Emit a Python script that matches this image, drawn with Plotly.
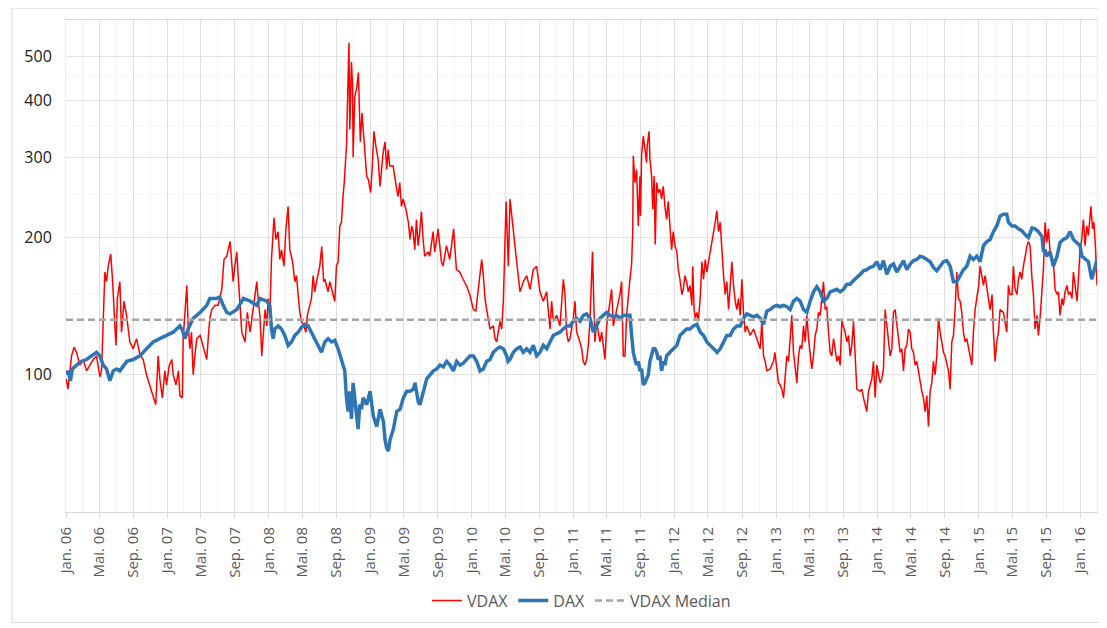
import plotly.graph_objects as go

# VDAX, indexed (Jan 2006 = 100)
vdax_dates = [
    "2006-01-02", "2006-01-08", "2006-01-21", "2006-01-30", "2006-02-08", "2006-02-20", "2006-03-04", "2006-03-16",
    "2006-03-28", "2006-04-09", "2006-04-21", "2006-05-03", "2006-05-09", "2006-05-15", "2006-05-21", "2006-05-27",
    "2006-06-02", "2006-06-11", "2006-06-18", "2006-06-26", "2006-06-30", "2006-07-05", "2006-07-14", "2006-07-20",
    "2006-07-29", "2006-08-07", "2006-08-19", "2006-08-31", "2006-09-12", "2006-09-24", "2006-10-06", "2006-10-18",
    "2006-10-30", "2006-11-11", "2006-11-20", "2006-11-29", "2006-12-05", "2006-12-14", "2006-12-23", "2006-12-29",
    "2007-01-08", "2007-01-17", "2007-01-22", "2007-02-01", "2007-02-10", "2007-02-15", "2007-02-24", "2007-02-27",
    "2007-03-05", "2007-03-12", "2007-03-17", "2007-03-23", "2007-03-29", "2007-04-04", "2007-04-10", "2007-04-17",
    "2007-04-29", "2007-05-10", "2007-05-23", "2007-05-28", "2007-06-03", "2007-06-10", "2007-06-22", "2007-07-03",
    "2007-07-16", "2007-07-24", "2007-08-03", "2007-08-15", "2007-08-21", "2007-08-26", "2007-09-01", "2007-09-08",
    "2007-09-13", "2007-09-20", "2007-09-26", "2007-10-08", "2007-10-16", "2007-10-26", "2007-11-06", "2007-11-19",
    "2007-11-24", "2007-12-01", "2007-12-07", "2007-12-12", "2007-12-19", "2007-12-25", "2007-12-30",
    "2008-01-05", "2008-01-11", "2008-01-20", "2008-01-27", "2008-02-04", "2008-02-10", "2008-02-16", "2008-02-25",
    "2008-03-03", "2008-03-11", "2008-03-17", "2008-03-27", "2008-04-04", "2008-04-10", "2008-04-16", "2008-04-22",
    "2008-04-28", "2008-05-07", "2008-05-14", "2008-05-19", "2008-05-28", "2008-06-03", "2008-06-09", "2008-06-15",
    "2008-06-21", "2008-06-27", "2008-07-03", "2008-07-10", "2008-07-17", "2008-07-21", "2008-07-27", "2008-08-02",
    "2008-08-08", "2008-08-14", "2008-08-20", "2008-08-26", "2008-09-01", "2008-09-07", "2008-09-13", "2008-09-19",
    "2008-09-24", "2008-09-29", "2008-10-07", "2008-10-11", "2008-10-16", "2008-10-19", "2008-10-25", "2008-10-29",
    "2008-10-31", "2008-11-06", "2008-11-12", "2008-11-19", "2008-11-26", "2008-12-02", "2008-12-07", "2008-12-13",
    "2008-12-19", "2008-12-25",
    "2009-01-02", "2009-01-07", "2009-01-14", "2009-01-21", "2009-01-29", "2009-02-05", "2009-02-11", "2009-02-16",
    "2009-02-23", "2009-03-01", "2009-03-06", "2009-03-12", "2009-03-24", "2009-03-30", "2009-04-06", "2009-04-11",
    "2009-04-17", "2009-04-23", "2009-04-29", "2009-05-09", "2009-05-18", "2009-05-24", "2009-05-30", "2009-06-04",
    "2009-06-10", "2009-06-16", "2009-06-22", "2009-06-28", "2009-07-04", "2009-07-10", "2009-07-16", "2009-07-28",
    "2009-08-03", "2009-08-15", "2009-08-21", "2009-09-02", "2009-09-14", "2009-09-20", "2009-10-02", "2009-10-14",
    "2009-10-28", "2009-11-07", "2009-11-19", "2009-12-01", "2009-12-13", "2009-12-25",
    "2010-01-07", "2010-01-16", "2010-01-25", "2010-02-06", "2010-02-12", "2010-02-18", "2010-02-24", "2010-03-02",
    "2010-03-08", "2010-03-20", "2010-03-26", "2010-04-01", "2010-04-07", "2010-04-13", "2010-04-19", "2010-04-25",
    "2010-05-05", "2010-05-13", "2010-05-19", "2010-05-31", "2010-06-06", "2010-06-12", "2010-06-24", "2010-07-06",
    "2010-07-18", "2010-07-30", "2010-08-11", "2010-08-23", "2010-09-04", "2010-09-16", "2010-09-28", "2010-10-04",
    "2010-10-10", "2010-10-16", "2010-10-22", "2010-11-03", "2010-11-15", "2010-11-27", "2010-12-03", "2010-12-09",
    "2010-12-15", "2010-12-21",
    "2011-01-02", "2011-01-08", "2011-01-14", "2011-01-26", "2011-02-01", "2011-02-07", "2011-02-13", "2011-02-19",
    "2011-02-25", "2011-03-03", "2011-03-09", "2011-03-12", "2011-03-17", "2011-03-21", "2011-03-27", "2011-04-08",
    "2011-04-14", "2011-04-26", "2011-05-02", "2011-05-14", "2011-05-20", "2011-05-26", "2011-06-07", "2011-06-19",
    "2011-06-25", "2011-07-01", "2011-07-07", "2011-07-13", "2011-07-25", "2011-07-31", "2011-08-04", "2011-08-06",
    "2011-08-12", "2011-08-18", "2011-08-24", "2011-08-30", "2011-09-01", "2011-09-05", "2011-09-11", "2011-09-17",
    "2011-09-23", "2011-09-25", "2011-10-02", "2011-10-05", "2011-10-11", "2011-10-15", "2011-10-20", "2011-10-24",
    "2011-10-29", "2011-11-04", "2011-11-10", "2011-11-16", "2011-11-22", "2011-11-28", "2011-12-04", "2011-12-10",
    "2011-12-16", "2011-12-22", "2011-12-28",
    "2012-01-03", "2012-01-10", "2012-01-15", "2012-01-21", "2012-01-28", "2012-02-02", "2012-02-08", "2012-02-14",
    "2012-02-20", "2012-02-26", "2012-03-04", "2012-03-07", "2012-03-12", "2012-03-16", "2012-03-22", "2012-03-27",
    "2012-04-03", "2012-04-09", "2012-04-15", "2012-04-21", "2012-04-27", "2012-05-03", "2012-05-09", "2012-05-15",
    "2012-05-21", "2012-05-27", "2012-06-02", "2012-06-08", "2012-06-14", "2012-06-20", "2012-06-26", "2012-07-02",
    "2012-07-08", "2012-07-14", "2012-07-20", "2012-07-26", "2012-08-01", "2012-08-07", "2012-08-13", "2012-08-19",
    "2012-08-25", "2012-08-31", "2012-09-06", "2012-09-12", "2012-09-18", "2012-09-30", "2012-10-12", "2012-10-24",
    "2012-11-05", "2012-11-11", "2012-11-17", "2012-11-23", "2012-11-29", "2012-12-11", "2012-12-23", "2012-12-28",
    "2013-01-04", "2013-01-10", "2013-01-16", "2013-01-22", "2013-01-28", "2013-02-03", "2013-02-09", "2013-02-15",
    "2013-02-21", "2013-02-27", "2013-03-05", "2013-03-11", "2013-03-17", "2013-03-23", "2013-03-29", "2013-04-04",
    "2013-04-10", "2013-04-16", "2013-04-22", "2013-04-28", "2013-05-04", "2013-05-10", "2013-05-16", "2013-05-22",
    "2013-05-28", "2013-06-03", "2013-06-09", "2013-06-15", "2013-06-21", "2013-06-27", "2013-07-03", "2013-07-09",
    "2013-07-15", "2013-07-21", "2013-07-27", "2013-08-02", "2013-08-08", "2013-08-14", "2013-08-20", "2013-08-26",
    "2013-09-01", "2013-09-07", "2013-09-13", "2013-09-19", "2013-09-25", "2013-10-01", "2013-10-07", "2013-10-13",
    "2013-10-19", "2013-10-31", "2013-11-06", "2013-11-12", "2013-11-18", "2013-11-24", "2013-11-30", "2013-12-06",
    "2013-12-12", "2013-12-18", "2013-12-24", "2013-12-30",
    "2014-01-05", "2014-01-11", "2014-01-17", "2014-01-23", "2014-01-29", "2014-02-04", "2014-02-10", "2014-02-16",
    "2014-02-22", "2014-02-28", "2014-03-06", "2014-03-12", "2014-03-18", "2014-03-24", "2014-03-30", "2014-04-05",
    "2014-04-11", "2014-04-17", "2014-04-23", "2014-04-29", "2014-05-05", "2014-05-11", "2014-05-17", "2014-05-23",
    "2014-05-29", "2014-06-04", "2014-06-10", "2014-06-16", "2014-06-22", "2014-06-28", "2014-07-04", "2014-07-10",
    "2014-07-16", "2014-07-22", "2014-07-28", "2014-08-03", "2014-08-09", "2014-08-15", "2014-08-21", "2014-08-27",
    "2014-09-02", "2014-09-08", "2014-09-14", "2014-09-20", "2014-09-26", "2014-10-02", "2014-10-08", "2014-10-14",
    "2014-10-20", "2014-10-26", "2014-11-01", "2014-11-07", "2014-11-13", "2014-11-19", "2014-11-25", "2014-12-01",
    "2014-12-07", "2014-12-13", "2014-12-19", "2014-12-25",
    "2015-01-01", "2015-01-06", "2015-01-13", "2015-01-18", "2015-01-24", "2015-01-31", "2015-02-05", "2015-02-11",
    "2015-02-18", "2015-02-23", "2015-03-01", "2015-03-07", "2015-03-13", "2015-03-19", "2015-03-31", "2015-04-12",
    "2015-04-18", "2015-04-24", "2015-05-01", "2015-05-06", "2015-05-12", "2015-05-19", "2015-05-24", "2015-05-30",
    "2015-06-05", "2015-06-11", "2015-06-17", "2015-06-24", "2015-06-29", "2015-07-05", "2015-07-12", "2015-07-17",
    "2015-07-23", "2015-07-30", "2015-08-04", "2015-08-10", "2015-08-17", "2015-08-22", "2015-08-28", "2015-09-03",
    "2015-09-09", "2015-09-15", "2015-09-27", "2015-10-03", "2015-10-10", "2015-10-15", "2015-10-21", "2015-10-28",
    "2015-11-02", "2015-11-08", "2015-11-15", "2015-11-20", "2015-11-26", "2015-12-03", "2015-12-08", "2015-12-14",
    "2015-12-21", "2015-12-26",
    "2016-01-01", "2016-01-07", "2016-01-13", "2016-01-19", "2016-01-25", "2016-01-31", "2016-02-06", "2016-02-09",
    "2016-02-15", "2016-02-20", "2016-02-26", "2016-03-02",
]
vdax_values = [
    98, 93, 110, 115, 112, 105, 108, 102,
    105, 108, 110, 99, 102, 139, 168, 160,
    173, 184, 160, 128, 116, 147, 160, 124,
    145, 135, 118, 114, 120, 111, 108, 100,
    95, 90, 86, 110, 98, 89, 102, 95,
    105, 108, 100, 95, 102, 90, 89, 120,
    139, 157, 128, 114, 124, 100, 110, 120,
    122, 116, 108, 120, 133, 139, 142, 142,
    154, 179, 182, 196, 173, 160, 173, 186,
    165, 139, 124, 118, 137, 124, 139, 160,
    147, 133, 110, 120, 139, 128, 147,
    135, 179, 221, 198, 206, 179, 188, 173,
    209, 234, 188, 177, 160, 165, 150, 137,
    131, 128, 124, 135, 142, 147, 165, 152,
    160, 168, 173, 191, 160, 162, 157, 152,
    160, 154, 150, 145, 173, 177, 212, 216,
    243, 264, 317, 428, 535, 345, 485, 428,
    300, 408, 422, 460, 324, 375, 340, 317,
    272, 268,
    251, 278, 342, 317, 297, 259, 282, 307,
    324, 282, 312, 287, 287, 268, 255, 246,
    264, 234, 243, 231, 216, 198, 212, 206,
    188, 219, 192, 206, 228, 198, 182, 186,
    182, 206, 186, 209, 177, 173, 192, 179,
    209, 170, 168, 162, 157, 150,
    139, 138, 154, 179, 165, 147, 139, 131,
    126, 128, 120, 118, 124, 131, 126, 145,
    240, 173, 243, 206, 186, 177, 152, 160,
    165, 154, 170, 173, 152, 145, 152, 137,
    126, 145, 131, 135, 128, 162, 150, 124,
    118, 120,
    133, 145, 124, 118, 114, 107, 105, 108,
    116, 131, 157, 186, 142, 118, 131, 118,
    124, 108, 128, 147, 154, 128, 139, 150,
    160, 110, 110, 135, 162, 175, 206, 302,
    264, 282, 212, 272, 223, 304, 334, 307,
    292, 317, 342, 297, 273, 231, 273, 193,
    264, 251, 255, 243, 259, 234, 219, 240,
    209, 188, 206,
    192, 186, 170, 162, 150, 154, 165, 160,
    152, 157, 142, 173, 139, 133, 137, 131,
    147, 177, 162, 179, 168, 177, 186, 192,
    206, 216, 229, 206, 216, 182, 165, 150,
    160, 139, 157, 177, 157, 145, 139, 147,
    135, 162, 137, 124, 128, 122, 126, 120,
    114, 131, 110, 107, 102, 103, 107, 112,
    102, 96, 95, 93, 89, 102, 110, 107,
    118, 135, 112, 103, 96, 110, 116, 114,
    128, 118, 135, 120, 110, 103, 110, 122,
    126, 137, 135, 147, 160, 139, 141, 124,
    112, 110, 120, 114, 107, 110, 105, 131,
    128, 124, 118, 122, 110, 116, 131, 112,
    93, 92, 93, 89, 86, 83, 92, 95,
    98, 107, 89, 105,
    100, 96, 98, 103, 139, 128, 120, 110,
    114, 137, 139, 128, 120, 112, 114, 102,
    114, 116, 126, 124, 114, 112, 105, 107,
    102, 96, 92, 89, 83, 90, 77, 92,
    96, 107, 100, 110, 133, 124, 118, 112,
    110, 105, 102, 93, 118, 122, 139, 168,
    147, 145, 137, 124, 118, 120, 114, 110,
    105, 124, 139, 147,
    157, 173, 165, 157, 165, 152, 147, 139,
    150, 124, 107, 118, 124, 139, 137, 124,
    157, 150, 150, 173, 154, 150, 162, 168,
    162, 173, 182, 192, 196, 192, 162, 150,
    126, 135, 122, 133, 154, 170, 216, 195,
    209, 186, 177, 154, 150, 152, 135, 147,
    142, 152, 157, 150, 152, 147, 168, 157,
    145, 162,
    188, 198, 219, 192, 212, 202, 231, 234,
    209, 216, 188, 157,
]

# DAX, indexed (Jan 2006 = 100)
dax_dates = [
    "2006-01-02", "2006-01-09", "2006-01-17", "2006-01-24", "2006-02-08", "2006-02-26", "2006-03-16", "2006-04-03",
    "2006-04-21", "2006-05-03", "2006-05-15", "2006-05-27", "2006-06-08", "2006-06-20", "2006-07-02", "2006-07-14",
    "2006-07-27", "2006-08-08", "2006-08-31", "2006-09-24", "2006-10-18", "2006-11-11", "2006-12-05", "2006-12-29",
    "2007-01-22", "2007-02-15", "2007-02-25", "2007-03-05", "2007-03-17", "2007-04-04", "2007-04-29", "2007-05-23",
    "2007-06-03", "2007-06-27", "2007-07-09", "2007-07-21", "2007-08-03", "2007-08-15", "2007-09-08", "2007-10-02",
    "2007-10-26", "2007-11-19", "2007-12-01", "2007-12-25",
    "2008-01-05", "2008-01-11", "2008-01-17", "2008-01-23", "2008-02-04", "2008-02-16", "2008-02-28", "2008-03-11",
    "2008-03-23", "2008-04-04", "2008-04-16", "2008-04-28", "2008-05-10", "2008-05-22", "2008-06-03", "2008-06-15",
    "2008-06-27", "2008-07-09", "2008-07-21", "2008-08-02", "2008-08-14", "2008-08-26", "2008-09-07", "2008-09-20",
    "2008-09-25", "2008-10-01", "2008-10-07", "2008-10-13", "2008-10-19", "2008-10-25", "2008-10-31", "2008-11-06",
    "2008-11-12", "2008-11-18", "2008-11-24", "2008-11-30", "2008-12-06", "2008-12-19", "2008-12-31",
    "2009-01-06", "2009-01-12", "2009-01-24", "2009-02-05", "2009-02-17", "2009-02-23", "2009-03-01", "2009-03-07",
    "2009-03-13", "2009-03-25", "2009-04-06", "2009-04-18", "2009-04-30", "2009-05-12", "2009-05-24", "2009-06-05",
    "2009-06-11", "2009-06-23", "2009-06-29", "2009-07-11", "2009-07-23", "2009-08-04", "2009-08-16", "2009-08-28",
    "2009-09-09", "2009-09-21", "2009-10-03", "2009-10-15", "2009-10-27", "2009-11-08", "2009-11-20", "2009-12-02",
    "2009-12-14", "2009-12-26",
    "2010-01-07", "2010-01-19", "2010-01-31", "2010-02-12", "2010-02-24", "2010-03-08", "2010-03-20", "2010-04-02",
    "2010-04-13", "2010-04-25", "2010-05-07", "2010-05-12", "2010-05-19", "2010-05-31", "2010-06-12", "2010-06-24",
    "2010-07-06", "2010-07-18", "2010-07-30", "2010-08-11", "2010-08-23", "2010-09-04", "2010-09-16", "2010-09-28",
    "2010-10-10", "2010-10-22", "2010-11-03", "2010-11-15", "2010-11-27", "2010-12-09", "2010-12-21",
    "2011-01-02", "2011-01-14", "2011-01-26", "2011-02-07", "2011-02-19", "2011-03-03", "2011-03-15", "2011-03-27",
    "2011-04-08", "2011-04-20", "2011-05-02", "2011-05-14", "2011-05-26", "2011-06-07", "2011-06-19", "2011-07-01",
    "2011-07-14", "2011-07-25", "2011-07-31", "2011-08-06", "2011-08-12", "2011-08-18", "2011-08-24", "2011-08-30",
    "2011-09-05", "2011-09-11", "2011-09-17", "2011-09-23", "2011-09-29", "2011-10-05", "2011-10-11", "2011-10-17",
    "2011-10-23", "2011-10-29", "2011-11-04", "2011-11-10", "2011-11-16", "2011-11-22", "2011-11-28", "2011-12-04",
    "2011-12-16", "2011-12-28",
    "2012-01-10", "2012-01-21", "2012-02-02", "2012-02-14", "2012-02-26", "2012-03-09", "2012-03-22", "2012-04-03",
    "2012-04-15", "2012-04-27", "2012-05-09", "2012-05-21", "2012-06-03", "2012-06-14", "2012-06-26", "2012-07-08",
    "2012-07-20", "2012-08-01", "2012-08-13", "2012-08-25", "2012-09-06", "2012-09-18", "2012-09-30", "2012-10-12",
    "2012-10-24", "2012-11-05", "2012-11-17", "2012-11-29", "2012-12-11", "2012-12-23",
    "2013-01-04", "2013-01-16", "2013-01-28", "2013-02-09", "2013-02-21", "2013-03-05", "2013-03-17", "2013-03-29",
    "2013-04-10", "2013-04-22", "2013-05-04", "2013-05-16", "2013-05-28", "2013-06-09", "2013-06-21", "2013-07-03",
    "2013-07-15", "2013-07-27", "2013-08-08", "2013-08-20", "2013-09-01", "2013-09-13", "2013-09-25", "2013-10-07",
    "2013-10-19", "2013-10-31", "2013-11-12", "2013-11-24", "2013-12-06", "2013-12-18", "2013-12-30",
    "2014-01-11", "2014-01-23", "2014-02-04", "2014-02-16", "2014-02-28", "2014-03-12", "2014-03-24", "2014-04-05",
    "2014-04-17", "2014-04-29", "2014-05-11", "2014-05-23", "2014-06-04", "2014-06-16", "2014-06-28", "2014-07-10",
    "2014-07-22", "2014-08-03", "2014-08-15", "2014-08-27", "2014-09-08", "2014-09-20", "2014-10-02", "2014-10-14",
    "2014-10-26", "2014-11-07", "2014-11-19", "2014-12-01", "2014-12-13", "2014-12-25",
    "2015-01-06", "2015-01-18", "2015-01-30", "2015-02-11", "2015-02-23", "2015-03-07", "2015-03-19", "2015-03-31",
    "2015-04-12", "2015-04-18", "2015-05-01", "2015-05-12", "2015-05-24", "2015-06-05", "2015-06-17", "2015-06-29",
    "2015-07-12", "2015-07-23", "2015-08-04", "2015-08-17", "2015-08-22", "2015-08-28", "2015-09-03", "2015-09-15",
    "2015-09-27", "2015-10-10", "2015-10-21", "2015-11-02", "2015-11-15", "2015-11-26", "2015-12-08", "2015-12-21",
    "2016-01-01", "2016-01-07", "2016-01-19", "2016-01-31", "2016-02-12", "2016-02-18", "2016-02-24", "2016-03-02",
]
dax_values = [
    100, 102, 97, 103, 105, 107, 108, 110,
    112, 110, 105, 103, 97, 102, 103, 102,
    105, 107, 108, 110, 114, 118, 120, 122,
    124, 128, 125, 120, 126, 133, 137, 142,
    147, 147, 148, 142, 137, 136, 139, 147,
    145, 142, 147, 145,
    142, 126, 120, 126, 128, 126, 122, 116,
    118, 122, 124, 127, 129, 128, 124, 120,
    116, 112, 118, 120, 118, 119, 114, 108,
    105, 102, 89, 83, 92, 80, 96, 89,
    84, 76, 86, 84, 89, 86, 92,
    87, 81, 77, 84, 79, 72, 69, 68,
    72, 76, 83, 84, 89, 92, 92, 93,
    96, 87, 86, 92, 98, 100, 102, 103,
    105, 104, 107, 105, 102, 107, 105, 106,
    108, 110,
    110, 107, 102, 103, 107, 108, 112, 114,
    115, 114, 110, 107, 108, 112, 114, 115,
    112, 114, 112, 116, 110, 112, 116, 114,
    118, 122, 123, 124, 126, 128, 128,
    131, 133, 131, 135, 136, 133, 124, 128,
    133, 135, 137, 135, 134, 135, 133, 135,
    135, 135, 122, 112, 108, 105, 107, 102,
    103, 95, 96, 98, 100, 107, 110, 114,
    114, 112, 108, 110, 102, 107, 105, 110,
    112, 114,
    116, 122, 124, 126, 126, 128, 129, 124,
    122, 118, 116, 114, 112, 114, 118, 122,
    122, 126, 128, 128, 133, 136, 135, 134,
    135, 133, 129, 138, 139, 141,
    142, 141, 142, 141, 139, 145, 147, 145,
    139, 137, 145, 152, 156, 152, 145, 147,
    152, 153, 154, 152, 154, 158, 158, 161,
    164, 166, 169, 170, 172, 173, 177,
    170, 178, 166, 173, 175, 168, 173, 178,
    170, 175, 178, 179, 182, 181, 179, 177,
    172, 169, 173, 177, 178, 173, 160, 160,
    165, 170, 173, 182, 179, 182,
    177, 192, 196, 198, 206, 212, 223, 225,
    225, 216, 212, 212, 209, 207, 203, 200,
    210, 209, 206, 201, 186, 188, 182, 186,
    173, 182, 195, 198, 200, 206, 198, 195,
    192, 182, 179, 177, 162, 168, 173, 179,
]

vdax_median = 132

date_start = "2006-01-01"
date_end = "2016-03-02"
y_ticks = [100, 200, 300, 400, 500]
y_minor_ticks = [150, 250, 350, 450]
tick_years = list(range(2006, 2017))
tick_months = [(1, "Jan."), (5, "Mai."), (9, "Sep.")]

x_tickvals = []
x_ticktext = []
for yr in tick_years:
    for m, name in tick_months:
        if yr == 2016 and m > 1:
            continue
        x_tickvals.append(f"{yr}-{m:02d}-01")
        x_ticktext.append(f"{name} {yr % 100:02d}")

x_minor = [f"{yr}-{m:02d}-01" for yr in tick_years for m in (3, 7, 11) if yr < 2016]

fig = go.Figure()

fig.add_trace(go.Scatter(x=vdax_dates, y=vdax_values, name="VDAX", mode="lines",
                         line=dict(color="#FF0000", width=1.5)))
fig.add_trace(go.Scatter(x=dax_dates, y=dax_values, name="DAX", mode="lines",
                         line=dict(color="#2E75B6", width=3.5)))
fig.add_trace(go.Scatter(x=[date_start, date_end], y=[vdax_median, vdax_median], name="VDAX Median",
                         mode="lines", line=dict(color="#A5A5A5", width=2.5, dash="7px,4px")))

# the page body has an 8px margin, so the figure is drawn 8px smaller and shifted
fig.update_layout(
    width=1099, height=620,
    margin=dict(l=58, r=10, t=12, b=114),
    plot_bgcolor="white", paper_bgcolor="white",
    font=dict(family="Open Sans, sans-serif", color="#595959"),
    showlegend=True,
    legend=dict(orientation="h", x=0.5, xanchor="center", y=-0.18, yanchor="middle",
                font=dict(size=16, color="#595959"), itemwidth=30),
)

fig.update_xaxes(
    type="date", range=[date_start, date_end],
    tickmode="array", tickvals=x_tickvals, ticktext=x_ticktext, tickangle=-90,
    tickfont=dict(size=15, color="#595959"), ticklabelstandoff=3,
    ticks="outside", ticklen=5, tickcolor="#D9D9D9",
    showgrid=True, gridcolor="#DEDEDE", gridwidth=1,
    minor=dict(tickvals=x_minor, showgrid=True, gridcolor="#F2F2F2", ticks=""),
    showline=True, linecolor="#D9D9D9", linewidth=1, mirror=True,
    zeroline=False,
)

fig.update_yaxes(
    type="log", range=[1.69897, 2.77815],
    tickmode="array", tickvals=y_ticks, ticktext=[str(v) for v in y_ticks],
    tickfont=dict(size=16, color="#1a1a1a"), ticklabelstandoff=10,
    showgrid=True, gridcolor="#E3E3E3", gridwidth=1,
    minor=dict(tickvals=y_minor_ticks, showgrid=True, gridcolor="#F4F4F4", ticks=""),
    showline=True, linecolor="#EDEDED", linewidth=1, mirror=True,
    zeroline=False,
)

# light frame round the whole chart
fig.add_shape(type="rect", xref="paper", yref="paper",
              x0=-0.0524, x1=1.0087, y0=-0.2247, y1=1.0243,
              line=dict(color="#D9D9D9", width=1), layer="below")

fig.write_html("out.html")
